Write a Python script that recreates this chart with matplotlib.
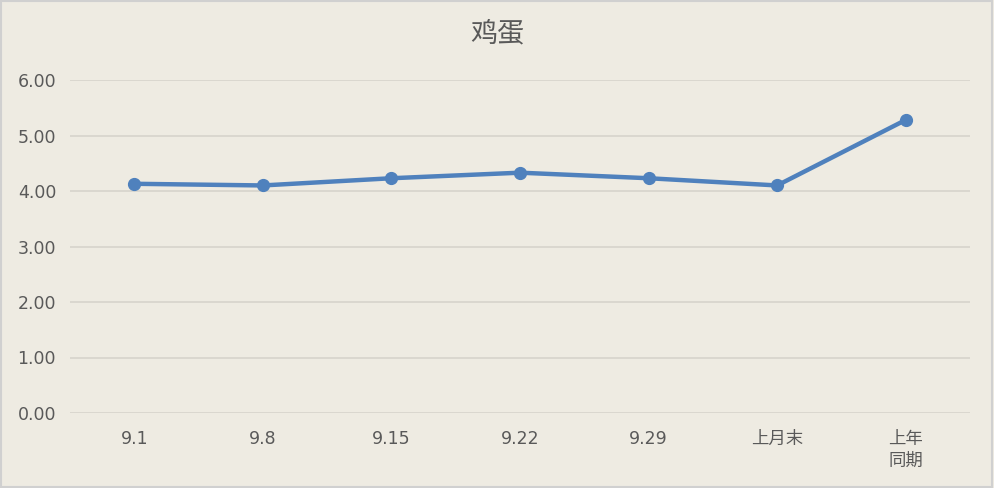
import matplotlib
matplotlib.use("Agg")
import matplotlib.pyplot as plt
from matplotlib.patches import Rectangle

plt.rcParams['font.family'] = ['DejaVu Sans', 'Noto Sans CJK SC']

categories = ['9.1', '9.8', '9.15', '9.22', '9.29', '上月末', '上年\n同期']
prices = [4.13, 4.10, 4.23, 4.33, 4.23, 4.10, 5.28]
yticks = [0, 1, 2, 3, 4, 5, 6]

bg = '#EEEBE2'
fig = plt.figure(figsize=(9.94, 4.88), dpi=100, facecolor=bg)
ax = fig.add_axes([70 / 994, 1 - 413 / 488, 900 / 994, 333 / 488])
ax.set_facecolor(bg)

x = list(range(len(categories)))
ax.plot(x, prices, color='#4F81BD', lw=3.2, marker='o', ms=8.5, zorder=3)

ax.set_xlim(-0.5, len(categories) - 0.5)
ax.set_ylim(0, 6)
ax.set_yticks(yticks)
ax.set_yticklabels(['%.2f' % v for v in yticks])
ax.set_xticks(x)
ax.set_xticklabels(categories, linespacing=1.3)
ax.tick_params(length=0, labelsize=12.5, labelcolor='#595959')
ax.tick_params(axis='y', pad=10)
ax.tick_params(axis='x', pad=12)
ax.grid(axis='y', color='#D6D3CC', lw=1.2)
ax.set_axisbelow(True)
for s in ax.spines.values():
    s.set_visible(False)

fig.text(0.5, 1 - 34 / 488, '鸡蛋', ha='center', va='center', fontsize=19.5,
         color='#595959', family=['Noto Sans CJK SC', 'DejaVu Sans'])
fig.patches.append(Rectangle((0.001, 0.002), 0.997, 0.995, transform=fig.transFigure,
                             fill=False, ec='#D0D0D0', lw=1.5))

fig.savefig('out.png', dpi=100, facecolor=bg)
